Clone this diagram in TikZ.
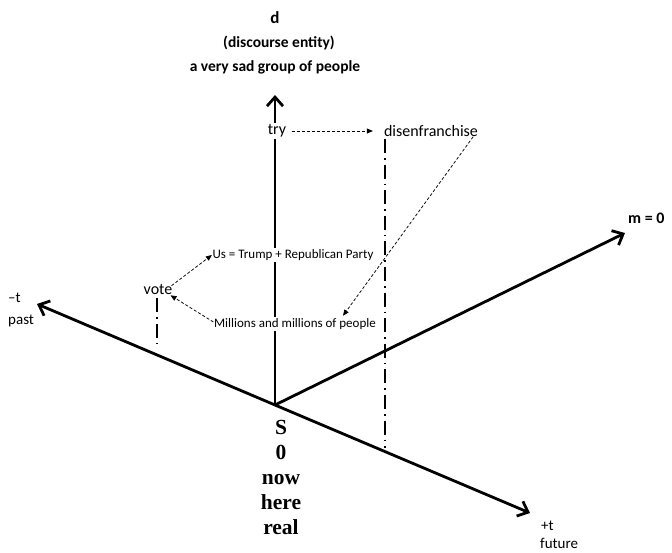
\documentclass[tikz,border=0pt]{standalone}
\usepackage{fontspec}
\setmainfont{Carlito}
\newfontfamily\timesbold{Liberation Serif}
\usetikzlibrary{arrows.meta,calc}

\tikzset{
  axis/.style={line width=2.8pt, -{Straight Barb[length=9pt,width=16pt,line width=2.8pt]}},
  guide/.style={line width=1.6pt, dash pattern=on 14pt off 5pt on 1.6pt off 5pt},
  dasharrow/.style={line width=0.75pt, dash pattern=on 3pt off 2pt,
    -{Triangle[length=6pt,width=5pt]}},
  lbl/.style={inner sep=2pt, font=\fontsize{16}{18}\selectfont},
  small/.style={inner sep=1.5pt, fill=white, font=\fontsize{13}{15}\selectfont},
  head/.style={inner sep=1pt, font=\fontsize{15.5}{18}\selectfont\bfseries},
  endlbl/.style={anchor=west, inner sep=0pt, font=\fontsize{15}{17}\selectfont},
}

\begin{document}
\begin{tikzpicture}[x=1pt,y=-1pt]
\useasboundingbox (0,0) rectangle (672,553);

% origin and axis end points
\coordinate (S) at (275,405);
\coordinate (dtip) at (275,95);
\coordinate (past) at (37,304);
\coordinate (future) at (530,513);
\coordinate (mtip) at (625,233);

% the axes
\draw[axis] (S) -- (dtip);
\draw[axis] (S) -- (past);
\draw[axis] (S) -- (future);
\draw[axis] (S) -- (mtip);

% labels on the vertical axis
\node[head, font=\fontsize{17}{19}\selectfont\bfseries] (d) at (275,18) {d};
\node[head] (de) at (279,43) {(discourse entity)};
\node[head] (grp) at (275,67) {a very sad group of people};

% event words
\node[lbl, fill=white] (try) at (277,131) {try};
\node[lbl] (disen) at (431,131) {disenfranchise};
\node[lbl] (vote) at (158,290) {vote};
\node[small] (us) at (293,255) {Us = Trump + Republican Party};
\node[small] (mill) at (295,324) {Millions and millions of people};

% dash-dot drop lines to the time axis
\coordinate (vtop) at (157,298);
\coordinate (vbot) at (157,348);
\coordinate (dtop) at (385,139);
\coordinate (dbot) at (385,448);
\draw[guide] (vtop) -- (vbot);
\draw[guide] (dtop) -- (dbot);

% dashed relations
\draw[dasharrow, shorten <=4pt, shorten >=9pt] (try.east) -- (disen.west);
\draw[dasharrow] ($(disen.south east)+(-7,-2)$) -- ($(mill.north)+(48,-1)$);
\draw[dasharrow] ($(vote.north east)+(-3,3)$) -- ($(us.west)+(1,0)$);
\draw[dasharrow] ($(mill.west)+(1,-2)$) -- ($(vote.south east)+(-4,-2)$);

% axis end labels
\node[endlbl] (minus) at (8,298) {\textendash t};
\node[endlbl] (pastl) at (8,321) {past};
\node[endlbl] (plus) at (541,526) {+t};
\node[endlbl] (futl) at (540,543) {future};
\node[anchor=west, inner sep=0pt, font=\fontsize{16}{18}\selectfont\bfseries] (m0) at (628,218) {m = 0};

% origin label
\node[align=center, inner sep=0pt, font=\timesbold\bfseries\fontsize{21.5}{25}\selectfont] (Slbl) at (281,477) {S\\0\\now\\here\\real};
\end{tikzpicture}
\end{document}
